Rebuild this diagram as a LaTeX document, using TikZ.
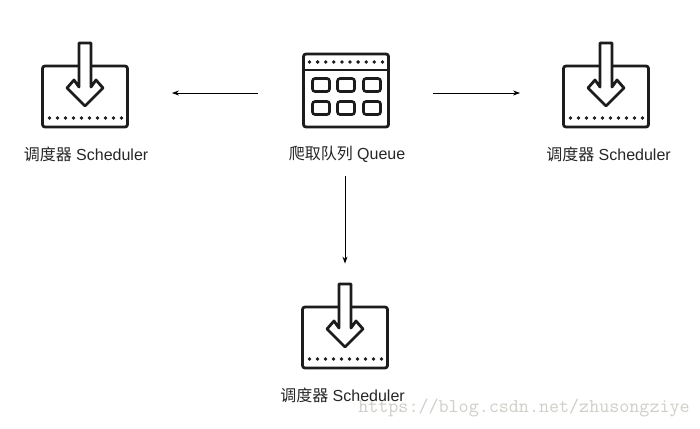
\documentclass[tikz,border=0pt]{standalone}
\usepackage{fontspec}
\setmainfont{Liberation Sans}
\newfontfamily\cjk{Noto Sans CJK SC}
\usetikzlibrary{arrows.meta}
\definecolor{icon}{HTML}{1C1C1C}
\definecolor{mark}{HTML}{CFCFC9}
\tikzset{
  iconbox/.style={draw=icon,line width=2.8pt,rounded corners=2.5pt,inner sep=0pt,minimum width=85pt},
  cell/.style={draw=icon,line width=2.6pt,rounded corners=2.5pt,inner sep=0pt,minimum width=17pt,minimum height=13pt},
  label/.style={inner sep=0pt,text=black!85,font=\fontsize{16}{18}\selectfont},
  link/.style={draw=black,line width=1pt,-{Stealth[length=7pt,width=5pt]}},
  dotrow/.style={fill=icon,draw=none},
  pics/inarrow/.style={code={
    \draw[icon,line width=2.8pt,fill=white,line join=round]
      (-6,-53.5) -- (6,-53.5) -- (6,-9.5) -- (11,-16.5) -- (18,-8.5) -- (0,9.5)
      -- (-18,-8.5) -- (-11,-16.5) -- (-6,-9.5) -- cycle;
    \foreach \i in {0,...,9}
      \fill[dotrow] (-35.5+\i*8,21.5) circle (1.9);
  }}
}
\begin{document}
\begin{tikzpicture}[x=1pt,y=-1pt]
\useasboundingbox[fill=white] (0,0) rectangle (700,428);
% queue in the middle
\node[iconbox,minimum height=73pt] (queue) at (346,90.5) {};
\coordinate (queuebar) at (346,70);
\draw[icon,line width=2.6pt] (queue.west |- queuebar) -- (queue.east |- queuebar);
\foreach \i in {0,...,9}
  \fill[dotrow] (309.5+\i*8.1,62) circle (1.9);
\foreach \x/\c in {321/a,346/b,372/c}{
  \node[cell] (cell1\c) at (\x,85) {};
  \node[cell] (cell2\c) at (\x,108) {};
}
% schedulers
\node[iconbox,minimum height=61pt] (schedleft) at (85,96.5) {};
\node[iconbox,minimum height=61pt] (schedright) at (606,96.5) {};
\node[iconbox,minimum height=61pt] (schedbottom) at (345,337.5) {};
\pic at (schedleft) {inarrow};
\pic at (schedright) {inarrow};
\pic at (schedbottom) {inarrow};
% labels
\node[label] (labelleft) at (86,154) {{\cjk 调度器} Scheduler};
\node[label] (labelqueue) at (347,154) {{\cjk 爬取队列} Queue};
\node[label] (labelright) at (608.5,154) {{\cjk 调度器} Scheduler};
\node[label] (labelbottom) at (342.5,395) {{\cjk 调度器} Scheduler};
% arrows
\draw[link,shorten <=44pt,shorten >=43pt] ([yshift=-2.5pt]queue.west) -- ([yshift=3.5pt]schedleft.east);
\draw[link,shorten <=43pt,shorten >=42pt] ([yshift=-2.5pt]queue.east) -- ([yshift=3.5pt]schedright.west);
\draw[link,shorten <=14pt,shorten >=42pt] (labelqueue.south -| schedbottom) -- (schedbottom.north);
% watermark
\node[inner sep=0pt,text=mark,font=\ttfamily\fontsize{19.5}{20}\selectfont] (watermark) at (524,408) {https://blog.csdn.net/zhusongziye};
\end{tikzpicture}
\end{document}
